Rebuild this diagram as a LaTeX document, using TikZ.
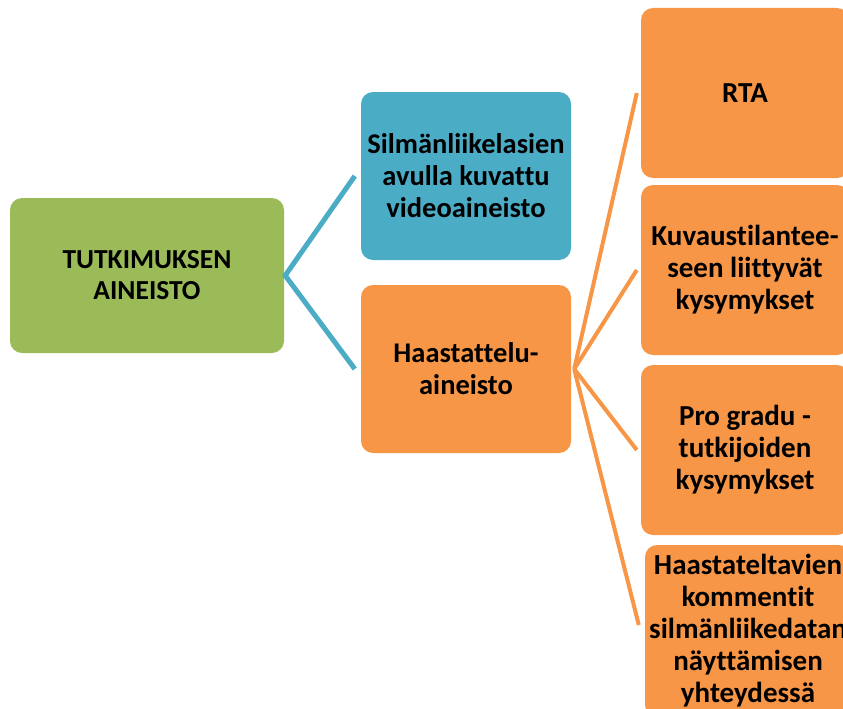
\documentclass[tikz,border=0pt]{standalone}
\usepackage{fontspec}
\setmainfont[Ligatures=NoCommon]{Carlito}
\definecolor{cgreen}{HTML}{9BBB59}
\definecolor{cblue}{HTML}{4BACC6}
\definecolor{corange}{HTML}{F79646}
\begin{document}
\begin{tikzpicture}[x=1pt,y=-1pt,
  box/.style={rounded corners=12pt, inner sep=0pt, align=center,
    font=\fontsize{28.5}{32}\selectfont\bfseries, text=black},
  rbox/.style={box, font=\fontsize{29}{32}\selectfont\bfseries},
  bluelink/.style={draw=cblue, line width=5pt},
  orangelink/.style={draw=corange, line width=4pt}]
\useasboundingbox (0,0) rectangle (843,709);
\clip (0,0) rectangle (843,709);
\node[box, font=\fontsize{27.5}{31}\selectfont\bfseries, fill=cgreen, minimum width=274pt, minimum height=155pt] (green) at (147,275.5) {TUTKIMUKSEN\\AINEISTO};
\node[box, fill=cblue, minimum width=210pt, minimum height=168pt] (blue) at (466,176) {Silmänliikelasien\\avulla kuvattu\\videoaineisto};
\node[box, fill=corange, minimum width=210pt, minimum height=168pt] (hz) at (466,369) {Haastattelu-\\aineisto};
\node[rbox, fill=corange, minimum width=208pt, minimum height=170pt] (rta) at (745,93) {RTA};
\node[rbox, fill=corange, minimum width=208pt, minimum height=170pt] (kuv) at (745,270) {Kuvaustilantee-\\seen liittyvät\\kysymykset};
\node[rbox, fill=corange, minimum width=208pt, minimum height=170pt] (pro) at (745,450) {Pro gradu -\\tutkijoiden\\kysymykset};
\node[rbox, fill=corange, minimum width=206pt, minimum height=172pt] (haa) at (748,631) {Haastateltavien\\kommentit\\silmänliikedatan\\näyttämisen\\yhteydessä};
\coordinate (gv) at ([xshift=1pt]green.east);
\coordinate (ov) at ([xshift=3pt]hz.east);
\draw[bluelink] ([xshift=-6pt]blue.west) -- (gv) -- ([xshift=-6pt]hz.west);
\draw[orangelink] ([xshift=-4pt]rta.west) -- (ov);
\draw[orangelink] ([xshift=-4pt]kuv.west) -- (ov);
\draw[orangelink] ([xshift=-4pt]pro.west) -- (ov);
\draw[orangelink] ([xshift=-6pt,yshift=6pt]haa.west) -- (ov);
\end{tikzpicture}
\end{document}
